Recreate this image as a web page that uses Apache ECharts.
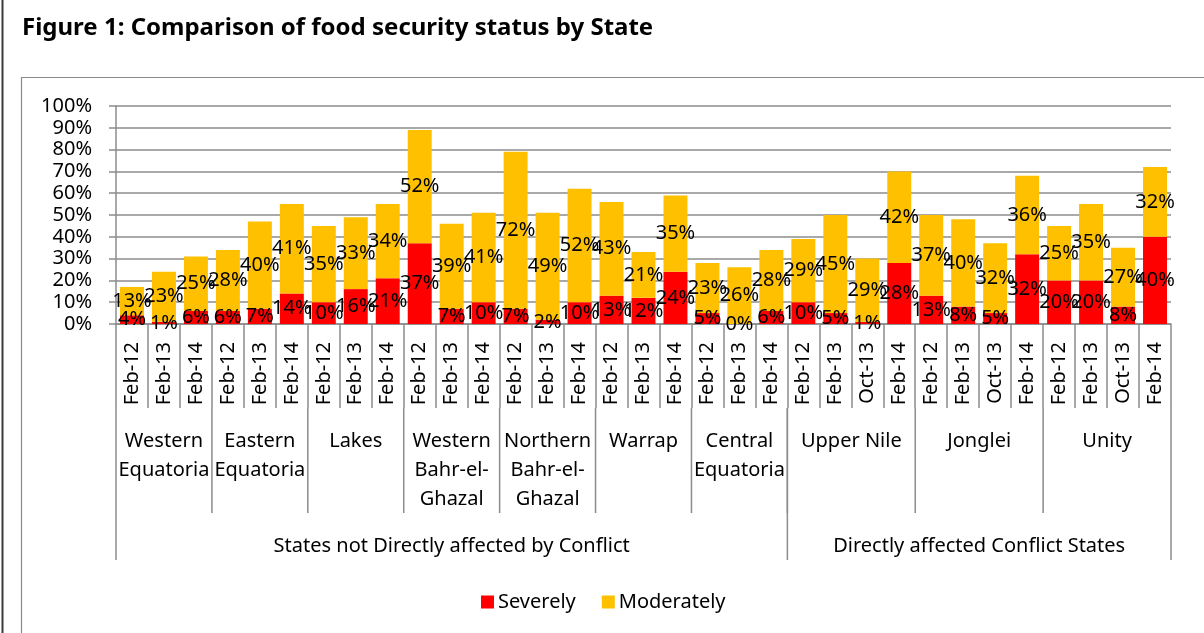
<!DOCTYPE html>
<html>
<head>
<meta charset="utf-8">
<script src="https://cdn.jsdelivr.net/npm/echarts@6/dist/echarts.min.js"></script>
<style>
  html, body { margin: 0; padding: 0; background: #fff; }
  #chart { width: 1204px; height: 633px; }
</style>
</head>
<body>
<div id="chart"></div>
<script>
// Survey rounds per state, in display order
const periods = [
  'Feb-12', 'Feb-13', 'Feb-14',            // Western Equatoria
  'Feb-12', 'Feb-13', 'Feb-14',            // Eastern Equatoria
  'Feb-12', 'Feb-13', 'Feb-14',            // Lakes
  'Feb-12', 'Feb-13', 'Feb-14',            // Western Bahr-el-Ghazal
  'Feb-12', 'Feb-13', 'Feb-14',            // Northern Bahr-el-Ghazal
  'Feb-12', 'Feb-13', 'Feb-14',            // Warrap
  'Feb-12', 'Feb-13', 'Feb-14',            // Central Equatoria
  'Feb-12', 'Feb-13', 'Oct-13', 'Feb-14',  // Upper Nile
  'Feb-12', 'Feb-13', 'Oct-13', 'Feb-14',  // Jonglei
  'Feb-12', 'Feb-13', 'Oct-13', 'Feb-14'   // Unity
];

// Share of households (%) by food security status
const severely = [
  4, 1, 6,   6, 7, 14,   10, 16, 21,   37, 7, 10,   7, 2, 10,
  13, 12, 24,   5, 0, 6,   10, 5, 1, 28,   13, 8, 5, 32,   20, 20, 8, 40
];
const moderately = [
  13, 23, 25,   28, 40, 41,   35, 33, 34,   52, 39, 41,   72, 49, 52,
  43, 21, 35,   23, 26, 28,   29, 45, 29, 42,   37, 40, 32, 36,   25, 35, 27, 32
];

// Second axis level: states and how many rounds each covers
const stateNames = [
  'Western\nEquatoria', 'Eastern\nEquatoria', 'Lakes',
  'Western\nBahr-el-\nGhazal', 'Northern\nBahr-el-\nGhazal', 'Warrap',
  'Central\nEquatoria', 'Upper Nile', 'Jonglei', 'Unity'
];
const stateSizes = [3, 3, 3, 3, 3, 3, 3, 4, 4, 4];

// Third axis level: conflict grouping, counted in rounds
const groupNames = ['States not Directly affected by Conflict', 'Directly affected Conflict States'];
const groupSizes = [21, 12];

const seriesNames = ['Severely', 'Moderately'];
const seriesColors = ['#FF0000', '#FFC000'];

const FONT = '"Noto Sans", "DejaVu Sans", sans-serif';
const LINE = '#8c8c8c';

const chart = echarts.init(document.getElementById('chart'), null, { renderer: 'canvas' });

const labelStyle = {
  show: true,
  position: 'inside',
  formatter: '{c}%',
  color: '#000',
  fontFamily: FONT,
  fontSize: 20,
  textBorderWidth: 0
};

chart.setOption({
  animation: false,
  title: {
    text: 'Figure 1: Comparison of food security status by State',
    left: 17,
    top: 11,
    textStyle: { fontFamily: FONT, fontWeight: 'bold', fontSize: 24, color: '#000' }
  },
  legend: {
    data: seriesNames,
    left: 476,
    top: 587,
    icon: 'rect',
    itemWidth: 13,
    itemHeight: 13,
    itemGap: 26,
    textStyle: { fontFamily: FONT, fontSize: 20, color: '#000', padding: [0, 0, 0, -1] }
  },
  grid: { left: 116, right: 33, top: 106, bottom: 309, containLabel: false },
  xAxis: {
    type: 'category',
    data: periods,
    axisLine: { show: true, lineStyle: { color: LINE, width: 1.5 } },
    axisTick: { show: true, interval: 0, length: 84, lineStyle: { color: LINE, width: 1.5 } },
    axisLabel: {
      interval: 0,
      rotate: 90,
      margin: 18,
      color: '#000',
      fontFamily: FONT,
      fontSize: 20
    },
    splitLine: { show: false }
  },
  yAxis: {
    type: 'value',
    min: 0,
    max: 100,
    interval: 10,
    axisLine: { show: true, lineStyle: { color: LINE, width: 1.5 } },
    axisTick: { show: true, length: 7, lineStyle: { color: LINE, width: 1.5 } },
    axisLabel: {
      formatter: '{value}%',
      margin: 24,
      color: '#000',
      fontFamily: FONT,
      fontSize: 20
    },
    splitLine: { show: true, lineStyle: { color: LINE, width: 1.5 } }
  },
  series: [
    {
      name: seriesNames[0],
      type: 'bar',
      stack: 'status',
      data: severely,
      barWidth: '75%',
      itemStyle: { color: seriesColors[0] },
      label: labelStyle
    },
    {
      name: seriesNames[1],
      type: 'bar',
      stack: 'status',
      data: moderately,
      barWidth: '75%',
      itemStyle: { color: seriesColors[1] },
      label: labelStyle
    }
  ]
});

// Multi-level category labels and separators, placed from the x axis scale
function drawAxisLevels() {
  const c0 = chart.convertToPixel({ xAxisIndex: 0 }, 0);
  const c1 = chart.convertToPixel({ xAxisIndex: 0 }, 1);
  const band = c1 - c0;
  const edge = i => c0 - band / 2 + i * band;
  const axisY = chart.convertToPixel({ yAxisIndex: 0 }, 0);

  const leafBottom = axisY + 84;
  const stateBottom = axisY + 189;
  const groupBottom = axisY + 236;

  const elements = [];

  // frame around the figure
  elements.push({
    type: 'line', silent: true,
    shape: { x1: 2.5, y1: 0, x2: 2.5, y2: 633 },
    style: { stroke: '#3a3a3a', lineWidth: 2 }
  });
  elements.push({
    type: 'polyline', silent: true,
    shape: { points: [[21.5, 633], [21.5, 77.5], [1204, 77.5]] },
    style: { stroke: '#8a8a8a', lineWidth: 1.2, fill: null }
  });

  // state level
  let start = 0;
  stateSizes.forEach((n, k) => {
    const end = start + n;
    if (k > 0) {
      elements.push({
        type: 'line', silent: true,
        shape: { x1: edge(start), y1: leafBottom, x2: edge(start), y2: stateBottom },
        style: { stroke: LINE, lineWidth: 1.5 }
      });
    }
    elements.push({
      type: 'text', silent: true,
      style: {
        x: (edge(start) + edge(end)) / 2,
        y: leafBottom + 19,
        text: stateNames[k],
        align: 'center',
        verticalAlign: 'top',
        fontFamily: FONT,
        fontSize: 20,
        lineHeight: 29,
        fill: '#000'
      }
    });
    start = end;
  });

  // conflict group level
  start = 0;
  const groupEdges = [0];
  groupSizes.forEach((n, k) => {
    const end = start + n;
    groupEdges.push(end);
    elements.push({
      type: 'text', silent: true,
      style: {
        x: (edge(start) + edge(end)) / 2,
        y: stateBottom + 33,
        text: groupNames[k],
        align: 'center',
        verticalAlign: 'middle',
        fontFamily: FONT,
        fontSize: 20,
        fill: '#000'
      }
    });
    start = end;
  });
  groupEdges.forEach(i => {
    elements.push({
      type: 'line', silent: true,
      shape: { x1: edge(i), y1: leafBottom, x2: edge(i), y2: groupBottom },
      style: { stroke: LINE, lineWidth: 1.5 }
    });
  });

  chart.setOption({ graphic: { elements } });
}

drawAxisLevels();
</script>
</body>
</html>
